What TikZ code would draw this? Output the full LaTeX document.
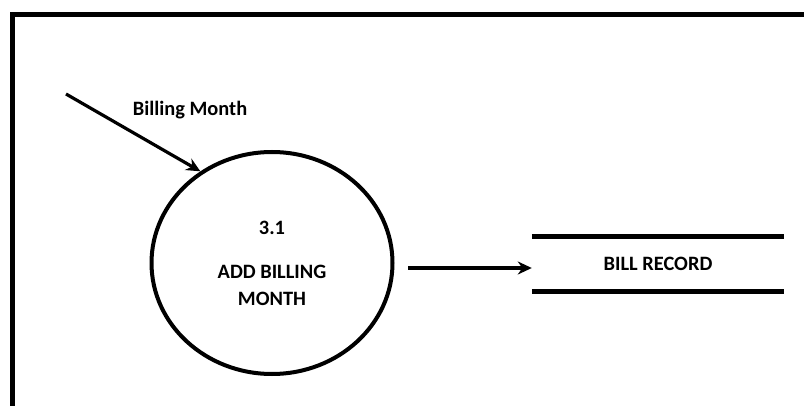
\documentclass[tikz,border=0pt]{standalone}
\usepackage{fontspec}
\setmainfont{Carlito}
\usetikzlibrary{shapes.geometric,arrows.meta}

\begin{document}
\begin{tikzpicture}[x=1pt,y=-1pt]
\tikzstyle{every node}=[font=\fontsize{20.4}{27}\selectfont\bfseries, inner sep=0pt]
\tikzstyle{flow}=[line width=3.2pt, -{Stealth[length=14pt,width=13pt]}]
\useasboundingbox (0,0) rectangle (804,406);
\draw[line width=5pt] (12,406) -- (12,15) -- (804,15);
% process
\node[shape=ellipse, draw=black, line width=4pt, minimum width=241pt, minimum height=222pt] (proc) at (272,263) {};
\node (num) at (272,228) {3.1};
\node[align=center] (name) at (272,285) {ADD BILLING\\MONTH};
% data store
\node[minimum width=252pt, minimum height=54pt] (store) at (658,264) {BILL RECORD};
\draw[line width=5pt] (store.north west) -- (store.north east);
\draw[line width=5pt] (store.south west) -- (store.south east);
% flows
\coordinate (src) at (66,94);
\node (lbl) at (190,110) {Billing Month};
\coordinate (out) at (408,268);
\draw[flow] (src) -- (proc.128);
\draw[flow] (out) -- (out -| store.west);

\end{tikzpicture}
\end{document}
